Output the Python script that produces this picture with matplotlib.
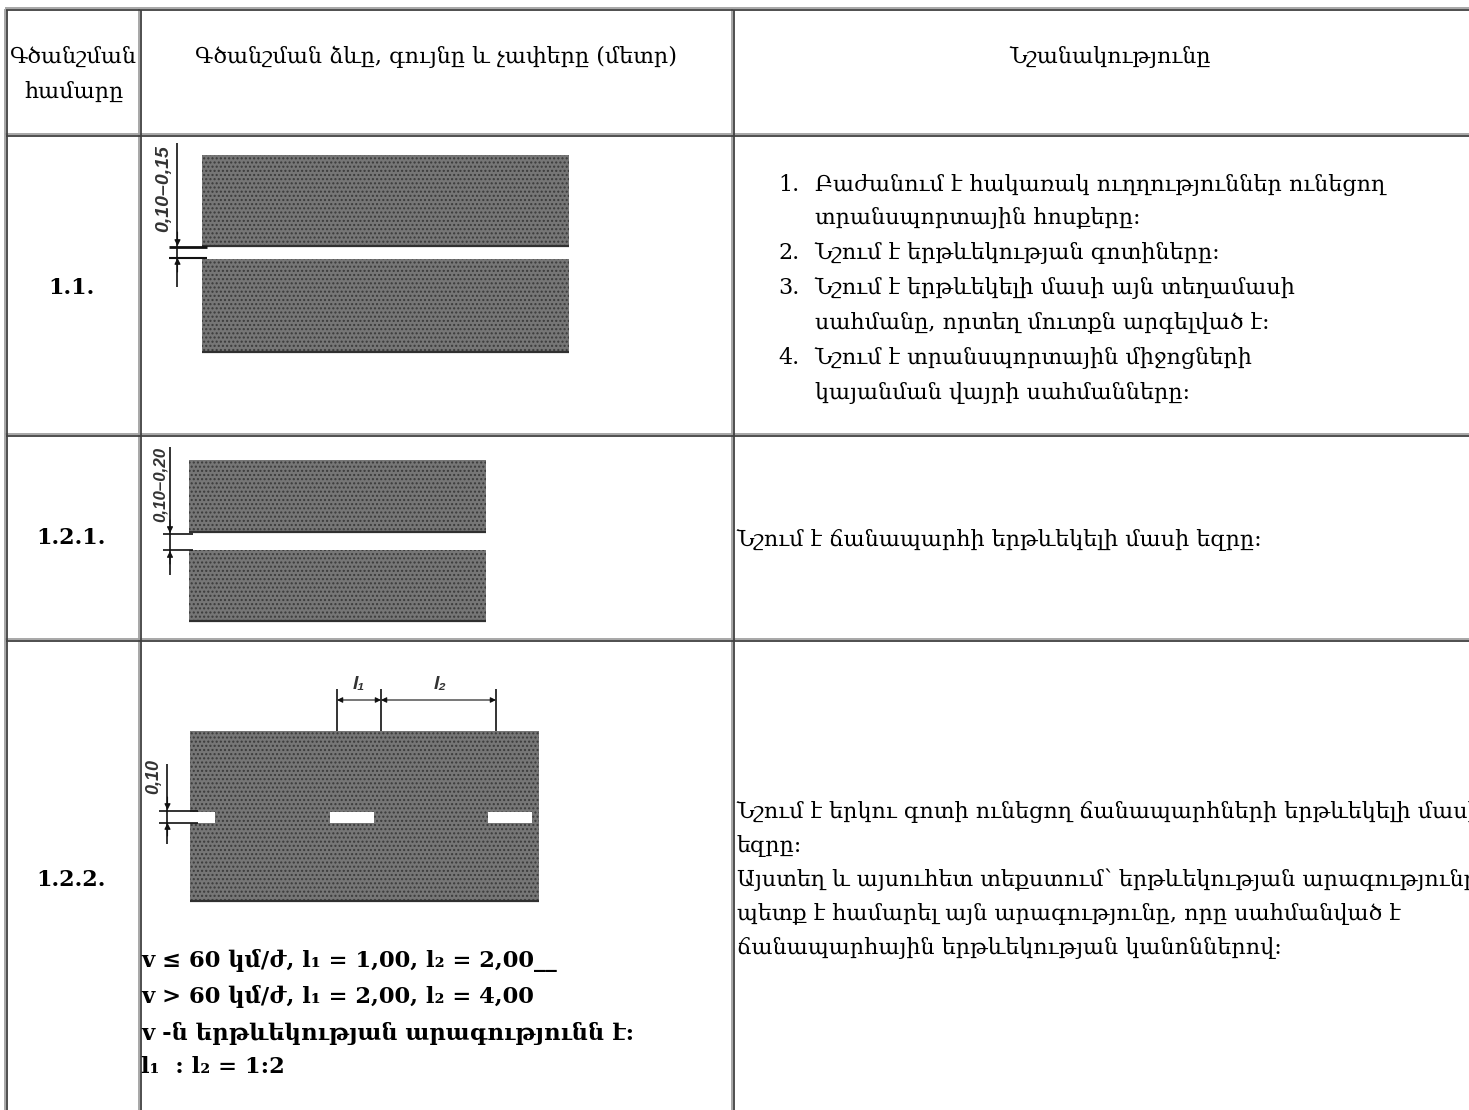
import matplotlib
matplotlib.use('Agg')
import matplotlib.pyplot as plt
from matplotlib.patches import Rectangle

# table text
header = ['Գծանշման\nհամարը', 'Գծանշման ձևը, գույնը և չափերը (մետր)', 'Նշանակությունը']
row_numbers = ['1.1.', '1.2.1.', '1.2.2.']
list_numbers = ['1.', '2.', '3.', '4.']
list_lines = [
    'Բաժանում է հակառակ ուղղություններ ունեցող',
    'տրանսպորտային հոսքերը:',
    'Նշում է երթևեկության գոտիները:',
    'Նշում է երթևեկելի մասի այն տեղամասի',
    'սահմանը, որտեղ մուտքն արգելված է:',
    'Նշում է տրանսպորտային միջոցների',
    'կայանման վայրի սահմանները:',
]
number_on_line = [0, 2, 3, 5]
row2_text = 'Նշում է ճանապարհի երթևեկելի մասի եզրը:'
row3_lines = [
    'Նշում է երկու գոտի ունեցող ճանապարհների երթևեկելի մասի',
    'եզրը:',
    'Այստեղ և այսուհետ տեքստում՝ երթևեկության արագությունը',
    'պետք է համարել այն արագությունը, որը սահմանված է',
    'ճանապարհային երթևեկության կանոններով:',
]
speed_lines = [
    'v ≤ 60 կմ/ժ, l₁ = 1,00, l₂ = 2,00__',
    'v > 60 կմ/ժ, l₁ = 2,00, l₂ = 4,00',
    'v -ն երթևեկության արագությունն է:',
    'l₁  : l₂ = 1:2',
]

# layout, in pixels of the picture
W, H = 1469, 1110
col_x = [6.5, 140.5, 733.5]
row_y = [9.5, 135.5, 435.5, 640]
list_y = [185, 218, 253, 288, 323, 358, 393]
serif = 'DejaVu Serif'
road = '#767676'
road_dark = '#3a3a3a'

fig = plt.figure(figsize=(W / 100, H / 100), dpi=100)
ax = fig.add_axes([0, 0, 1, 1])
ax.set_xlim(0, W)
ax.set_ylim(H, 0)
ax.axis('off')

# grid of the table, a light edge and a dark edge like the html border
for x in col_x:
    ax.plot([x - 1.2, x - 1.2], [row_y[0] - 1, H], color='#a0a0a0', lw=1.3, solid_capstyle='butt')
for y in row_y:
    ax.plot([col_x[0] - 1, W], [y - 1.2, y - 1.2], color='#a0a0a0', lw=1.3, solid_capstyle='butt')
for x in col_x:
    ax.plot([x + 0.6, x + 0.6], [row_y[0], H], color='#404040', lw=1.3, solid_capstyle='butt')
for y in row_y:
    ax.plot([col_x[0], W], [y + 0.6, y + 0.6], color='#404040', lw=1.3, solid_capstyle='butt')


def road_block(x0, x1, y0, y1):
    ax.add_patch(Rectangle((x0, y0), x1 - x0, y1 - y0, facecolor=road, edgecolor=road_dark,
                           lw=0, hatch='....', zorder=2))
    ax.plot([x0, x1], [y1 - 1, y1 - 1], color='#303030', lw=1.6, zorder=3, solid_capstyle='butt')


def dash(x0, x1, y0, y1):
    ax.add_patch(Rectangle((x0, y0), x1 - x0, y1 - y0, facecolor='white', edgecolor='none', zorder=3))


def vline(x, y0, y1, lw=1.2):
    ax.plot([x, x], [y0, y1], color='#111111', lw=lw, zorder=4, solid_capstyle='butt')


def hline(x0, x1, y, lw=1.2):
    ax.plot([x0, x1], [y, y], color='#111111', lw=lw, zorder=4, solid_capstyle='butt')


def arrow(x, y, dx, dy):
    ax.annotate('', xy=(x, y), xytext=(x + dx, y + dy), zorder=5,
                arrowprops=dict(arrowstyle='-|>', color='#111111', lw=0.8, mutation_scale=9,
                                shrinkA=0, shrinkB=0))


def dim_label(x, y, s, size, rot=90):
    ax.text(x, y, s, rotation=rot, ha='center', va='center', fontsize=size, style='italic',
            weight='bold', family='Liberation Sans', color='#333333', zorder=5)


def sl(x, y, s, size=16, **kw):
    ax.text(x, y, s, ha=kw.pop('ha', 'left'), va='center', fontsize=size, family=serif,
            color='black', **kw)


# header cells
for i, line in enumerate(header[0].split('\n')):
    sl(74, [57, 92][i], line, ha='center')
sl(436, 57, header[1], ha='center')
sl(1110, 57, header[2], ha='center')

# row numbers
for s, y in zip(row_numbers, [288, 538, 880]):
    sl(71.5, y, s, size=16, ha='center', weight='bold')

# marking 1.1
road_block(202, 569.5, 155, 247)
road_block(202, 569.5, 259, 352.5)
vline(177.5, 143, 287)
hline(169, 207, 247, lw=2)
hline(169, 207, 257.5, lw=1.5)
arrow(177.5, 246, 0, -14)
arrow(177.5, 258, 0, 14)
dim_label(164, 189, '0,10–0,15', 14)

# marking 1.2.1
road_block(189, 486, 460, 533)
road_block(189, 486, 550, 622)
vline(170, 447, 575)
hline(163, 193, 533.5)
hline(163, 193, 550)
arrow(170, 533, 0, -13)
arrow(170, 551, 0, 13)
dim_label(160, 484, '0,10–0,20', 12.2)

# marking 1.2.2
road_block(190, 539, 731, 902)
dash(188, 215, 811.5, 822.5)
dash(330, 374, 811.5, 822.5)
dash(488, 532, 811.5, 822.5)
for x in [337, 381, 496]:
    vline(x, 689, 731)
for x0, x1 in [(337, 381), (381, 496)]:
    ax.annotate('', xy=(x0, 700), xytext=(x1, 700), zorder=5,
                arrowprops=dict(arrowstyle='<|-|>', color='#111111', lw=0.8, mutation_scale=8,
                                shrinkA=0, shrinkB=0))
dim_label(359, 684, 'l₁', 14, rot=0)
dim_label(440, 685, 'l₂', 14, rot=0)
vline(167.5, 764, 844)
hline(159.5, 198, 811)
hline(159.5, 198, 822.5)
arrow(167.5, 810, 0, -13)
arrow(167.5, 823, 0, 13)
dim_label(154, 777, '0,10', 13)

# speed notes
for s, y in zip(speed_lines, [960, 996, 1033, 1067]):
    sl(141.5, y, s, size=16.3, weight='bold')

# meaning column
for s, y in zip(list_lines, list_y):
    sl(815, y, s)
for s, i in zip(list_numbers, number_on_line):
    sl(778, list_y[i], s)
sl(737, 540, row2_text)
for s, y in zip(row3_lines, [812, 846, 880, 914, 948]):
    sl(737, y, s)

fig.savefig('out.png', dpi=100)
